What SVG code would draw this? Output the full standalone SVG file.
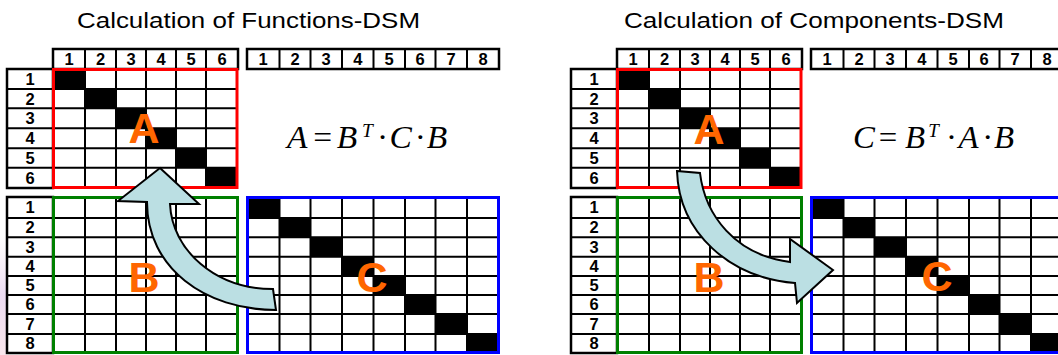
<svg xmlns="http://www.w3.org/2000/svg" xmlns:xlink="http://www.w3.org/1999/xlink" width="1058" height="355" viewBox="0 0 1058 355">
<style>
.hdr{fill:#fff;stroke:#000;stroke-width:2.5}
.grid{fill:none;stroke:#000;stroke-width:2}
.cell{fill:#000}
.num{font-family:'Liberation Sans',Arial,sans-serif;font-weight:bold;font-size:16.5px;text-anchor:middle;fill:#000}
.big{font-family:'Liberation Sans',Arial,sans-serif;font-weight:bold;font-size:43px;text-anchor:middle;fill:#FF6600}
.title{font-family:'Liberation Sans',Arial,sans-serif;font-size:22.5px;fill:#000}
.f{font-family:'Liberation Serif','Times New Roman',serif;font-size:31px;font-style:italic;fill:#000}
.fs{font-family:'Liberation Serif','Times New Roman',serif;font-size:18px;font-style:italic;fill:#000}
.op{font-family:'Liberation Serif','Times New Roman',serif;font-size:31px;fill:#000;text-anchor:middle}
.arrow{fill:#BBDFE3;stroke:#000;stroke-width:2;stroke-linejoin:miter}
</style>
<defs>
<linearGradient id="deco" x1="0" y1="0" x2="0" y2="1">
<stop offset="0" stop-color="#e8c8e0" stop-opacity="0"/>
<stop offset="0.5" stop-color="#d9b8e6" stop-opacity="0.5"/>
<stop offset="1" stop-color="#f0c0d0" stop-opacity="0.4"/>
</linearGradient>
<g id="colhdr6">
<rect class="hdr" x="53" y="49" width="185" height="20"/>
<path class="grid" d="M85 49V69M116 49V69M146 49V69M176 49V69M206 49V69"/>
<text class="num" x="69" y="65">1</text><text class="num" x="100.5" y="65">2</text><text class="num" x="131" y="65">3</text><text class="num" x="161" y="65">4</text><text class="num" x="191" y="65">5</text><text class="num" x="222" y="65">6</text>
</g>
<g id="colhdr8">
<rect class="hdr" x="247" y="49" width="252" height="20"/>
<path class="grid" d="M279.5 49V69M310.5 49V69M342 49V69M373.5 49V69M405 49V69M435.5 49V69M467 49V69"/>
<text class="num" x="263.2" y="65">1</text><text class="num" x="295" y="65">2</text><text class="num" x="326.2" y="65">3</text><text class="num" x="357.8" y="65">4</text><text class="num" x="389.2" y="65">5</text><text class="num" x="420.2" y="65">6</text><text class="num" x="451.2" y="65">7</text><text class="num" x="483" y="65">8</text>
</g>
<g id="rowhdr6">
<rect class="hdr" x="7" y="69" width="46" height="119"/>
<path class="grid" d="M7 89H53M7 108.3H53M7 128.3H53M7 148.3H53M7 167.7H53"/>
<text class="num" x="30" y="84.8">1</text><text class="num" x="30" y="104.5">2</text><text class="num" x="30" y="124">3</text><text class="num" x="30" y="144">4</text><text class="num" x="30" y="163.7">5</text><text class="num" x="30" y="183.5">6</text>
</g>
<g id="rowhdr8">
<rect class="hdr" x="7" y="197" width="46" height="156"/>
<path class="grid" d="M7 218H53M7 237.3H53M7 256.7H53M7 276H53M7 295H53M7 314H53M7 334H53"/>
<text class="num" x="30" y="213.3">1</text><text class="num" x="30" y="233.4">2</text><text class="num" x="30" y="252.7">3</text><text class="num" x="30" y="272">4</text><text class="num" x="30" y="291.2">5</text><text class="num" x="30" y="310.2">6</text><text class="num" x="30" y="329.7">7</text><text class="num" x="30" y="349.2">8</text>
</g>
<g id="matA">
<rect x="53" y="69" width="185" height="119" fill="#fff"/>
<rect class="cell" x="53" y="69" width="32" height="20"/>
<rect class="cell" x="85" y="89" width="31" height="19.3"/>
<rect class="cell" x="116" y="108.3" width="30" height="20"/>
<rect class="cell" x="146" y="128.3" width="30" height="20"/>
<rect class="cell" x="176" y="148.3" width="30" height="19.4"/>
<rect class="cell" x="206" y="167.7" width="32" height="20.3"/>
<path class="grid" d="M85 69V188M116 69V188M146 69V188M176 69V188M206 69V188M53 89H238M53 108.3H238M53 128.3H238M53 148.3H238M53 167.7H238"/>
<rect x="53.5" y="69.5" width="183.5" height="118" fill="none" stroke="#FF0000" stroke-width="3"/>
</g>
<g id="matB">
<rect x="53" y="197" width="185" height="156" fill="#fff"/>
<path class="grid" d="M85 197V353M116 197V353M146 197V353M176 197V353M206 197V353M53 218H238M53 237.3H238M53 256.7H238M53 276H238M53 295H238M53 314H238M53 334H238"/>
<rect x="53.5" y="197.5" width="184" height="155" fill="none" stroke="#008000" stroke-width="3"/>
</g>
<g id="matC">
<rect x="247" y="197" width="252" height="156" fill="#fff"/>
<rect class="cell" x="247" y="197" width="32.5" height="21"/>
<rect class="cell" x="279.5" y="218" width="31" height="19.3"/>
<rect class="cell" x="310.5" y="237.3" width="31.5" height="19.4"/>
<rect class="cell" x="342" y="256.7" width="31.5" height="19.3"/>
<rect class="cell" x="373.5" y="276" width="31.5" height="19"/>
<rect class="cell" x="405" y="295" width="30.5" height="19"/>
<rect class="cell" x="435.5" y="314" width="31.5" height="20"/>
<rect class="cell" x="467" y="334" width="32" height="19"/>
<path class="grid" d="M279.5 197V353M310.5 197V353M342 197V353M373.5 197V353M405 197V353M435.5 197V353M467 197V353M247 218H499M247 237.3H499M247 256.7H499M247 276H499M247 295H499M247 314H499M247 334H499"/>
<rect x="247.5" y="197.5" width="251" height="155" fill="none" stroke="#0000FF" stroke-width="3"/>
</g>
</defs>
<rect x="0" y="0" width="1058" height="355" fill="#fff"/>
<rect x="0" y="235" width="6" height="120" fill="url(#deco)"/>

<g id="left-panel">
<text id="title-functions" class="title" x="77" y="28" textLength="343" lengthAdjust="spacingAndGlyphs">Calculation of Functions-DSM</text>
<g id="left-col-header-6"><use xlink:href="#colhdr6"/></g>
<g id="left-col-header-8"><use xlink:href="#colhdr8"/></g>
<g id="left-row-header-6"><use xlink:href="#rowhdr6"/></g>
<g id="left-row-header-8"><use xlink:href="#rowhdr8"/></g>
<g id="left-matrix-A"><use xlink:href="#matA"/><text class="big" x="144" y="143">A</text></g>
<g id="left-matrix-B"><use xlink:href="#matB"/><text class="big" x="144" y="292">B</text></g>
<g id="left-matrix-C"><use xlink:href="#matC"/><text class="big" x="372" y="292">C</text></g>
<g id="left-formula" transform="translate(287,148) scale(1.08,1)">
<text class="f" x="0" y="0">A</text>
<text class="op" x="33" y="0">=</text>
<text class="f" x="46" y="0">B</text>
<text class="fs" x="69.5" y="-11">T</text>
<text class="op" x="88.5" y="0">·</text>
<text class="f" x="95" y="0">C</text>
<text class="op" x="123.5" y="0">·</text>
<text class="f" x="129.5" y="0">B</text>
</g>
</g>

<g id="right-panel">
<text id="title-components" class="title" x="624" y="28" textLength="380" lengthAdjust="spacingAndGlyphs">Calculation of Components-DSM</text>
<g id="right-col-header-6" transform="translate(564,0)"><use xlink:href="#colhdr6"/></g>
<g id="right-col-header-8" transform="translate(564,0)"><use xlink:href="#colhdr8"/></g>
<g id="right-row-header-6" transform="translate(564,0)"><use xlink:href="#rowhdr6"/></g>
<g id="right-row-header-8" transform="translate(564,0)"><use xlink:href="#rowhdr8"/></g>
<g id="right-matrix-A" transform="translate(564,0)"><use xlink:href="#matA"/><text class="big" x="145" y="144">A</text></g>
<g id="right-matrix-B" transform="translate(564,0)"><use xlink:href="#matB"/><text class="big" x="145" y="292">B</text></g>
<g id="right-matrix-C" transform="translate(564,0)"><use xlink:href="#matC"/><text class="big" x="373" y="291">C</text></g>
<g id="right-formula" transform="translate(853,148) scale(1.06,1)">
<text class="f" x="0" y="0">C</text>
<text class="op" x="33" y="0">=</text>
<text class="f" x="49" y="0">B</text>
<text class="fs" x="71" y="-11">T</text>
<text class="op" x="93" y="0">·</text>
<text class="f" x="99.5" y="0">A</text>
<text class="op" x="127" y="0">·</text>
<text class="f" x="133" y="0">B</text>
</g>
</g>

<g id="connectors">
<path id="arrow-C-to-A" class="arrow" d="M160 168L199 204L170 204C172 250 215 289 273 289L276 310C205 310 147 268 147 202L118 201Z"/>
<path id="arrow-A-to-C" class="arrow" d="M677 171L700 173C705 215 735 255 790 262L790 239L833 270L797 303L795 283C730 278 679 233 677 171Z"/>
</g>
</svg>
